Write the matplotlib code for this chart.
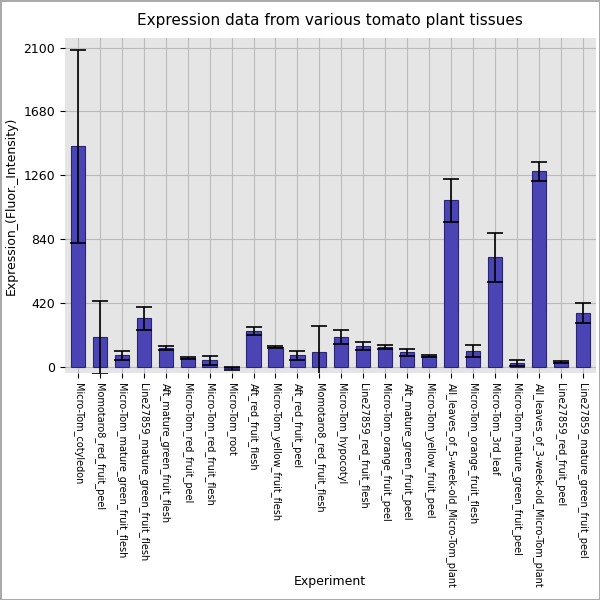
import matplotlib
matplotlib.use("Agg")
import matplotlib.pyplot as plt

samples = ["Micro-Tom_cotyledon", "Momotaro8_red_fruit_peel", "Micro-Tom_mature_green_fruit_flesh",
           "Line27859_mature_green_fruit_flesh", "Aft_mature_green_fruit_flesh", "Micro-Tom_red_fruit_peel",
           "Micro-Tom_red_fruit_flesh", "Micro-Tom_root", "Aft_red_fruit_flesh", "Micro-Tom_yellow_fruit_flesh",
           "Aft_red_fruit_peel", "Momotaro8_red_fruit_flesh", "Micro-Tom_hypocotyl", "Line27859_red_fruit_flesh",
           "Micro-Tom_orange_fruit_peel", "Aft_mature_green_fruit_peel", "Micro-Tom_yellow_fruit_peel",
           "All_leaves_of_5-week-old_Micro-Tom_plant", "Micro-Tom_orange_fruit_flesh", "Micro-Tom_3rd_leaf",
           "Micro-Tom_mature_green_fruit_peel", "All_leaves_of_3-week-old_Micro-Tom_plant",
           "Line27859_red_fruit_peel", "Line27859_mature_green_fruit_peel"]
means = [1450, 197, 79, 322, 125, 59, 46, -8, 236, 131, 79, 98, 197, 138, 131, 98, 72,
         1096, 105, 722, 26, 1286, 33, 354]
errs = [635, 240, 30, 75, 12, 8, 30, 12, 28, 5, 30, 172, 45, 25, 12, 22, 5,
        140, 40, 160, 20, 60, 8, 65]

fig = plt.figure(figsize=(6, 6), dpi=100)
fig.patch.set_edgecolor("#aaaaaa")
fig.patch.set_linewidth(2)
ax = fig.add_axes([0.108, 0.378, 0.885, 0.558])
ax.set_facecolor("#e5e5e5")
x = range(len(samples))
ax.bar(x, means, width=0.65, color="#4b44b5", edgecolor="#2a2570", linewidth=0.8, zorder=2)
ax.errorbar(x, means, yerr=errs, fmt="none", ecolor="black", elinewidth=1.2, capsize=6, capthick=1.2, zorder=3)
ax.set_yticks([0, 420, 840, 1260, 1680, 2100])
ax.set_ylim(-40, 2160)
ax.set_xlim(-0.6, len(samples) - 0.4)
ax.set_xticks(list(x))
ax.set_xticklabels(samples, rotation=-90, fontsize=7)
ax.tick_params(axis="y", labelsize=9)
ax.grid(True, color="#bbbbbb", linewidth=0.8, zorder=0)
ax.set_axisbelow(True)
for s in ax.spines.values():
    s.set_visible(False)
ax.set_title("Expression data from various tomato plant tissues", fontsize=11, pad=10)
ax.set_ylabel("Expression_(Fluor._Intensity)", fontsize=9)
fig.text(0.55, 0.025, "Experiment", ha="center", fontsize=9)
fig.savefig("out.png", dpi=100, edgecolor=fig.get_edgecolor())
